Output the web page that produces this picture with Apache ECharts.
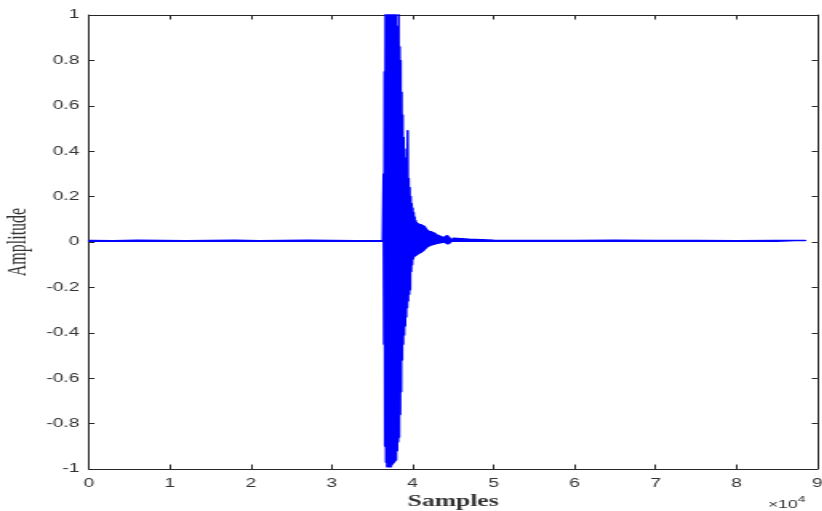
<!DOCTYPE html>
<html>
<head>
<meta charset="utf-8">
<script src="https://cdn.jsdelivr.net/npm/echarts@6/dist/echarts.min.js"></script>
<style>
  html, body { margin: 0; padding: 0; background: #fff; overflow: hidden; }
  /* the figure is drawn narrow and widened horizontally, like a stretched export */
  #chart { width: 513.75px; height: 511px; transform: scaleX(1.6); transform-origin: 0 0; }
</style>
</head>
<body>
<div id="chart"></div>
<script>
// Recorded waveform: quiet baseline, a sharp burst near 3.6e4 samples, then a decaying tail.

// baseline before the burst
const baseSamples = [0, 3000, 6000, 9000, 12000, 15000, 18000, 21000, 24000, 27000, 30000, 33000, 36300];
const baseAmps    = [0.007, 0.006, 0.008, 0.007, 0.006, 0.007, 0.008, 0.006, 0.007, 0.008, 0.007, 0.006, 0.007];

// burst: successive oscillation peaks (positive / negative alternating), one every burstStep samples
const burstStart = 36400;
const burstStep = 62;
const burstPeaks = [
  0.30, -0.45,  0.75, -0.90,  1.08, -0.97,  1.10, -0.99,  1.10, -0.99,
  1.10, -0.99,  1.10, -0.99,  1.10, -0.99,  1.08, -0.98,  1.06, -0.975,
  1.05, -0.97,  1.04, -0.965, 1.02, -0.96,  0.95, -0.92,  0.90, -0.88,
  1.05, -0.86,  0.86, -0.76,  0.80, -0.66,  0.66, -0.52,  0.56, -0.45,
  0.46, -0.41,  0.41, -0.37,  0.37, -0.33,  0.34, -0.29,  0.49, -0.26,
  0.28, -0.23,  0.24, -0.21,  0.20, -0.13,  0.17, -0.10,  0.15, -0.075,
  0.13, -0.065, 0.11, -0.06,  0.095, -0.058, 0.086, -0.055, 0.081, -0.052,
  0.079, -0.05, 0.077, -0.047, 0.076, -0.045, 0.075, -0.042, 0.073, -0.038,
  0.071, -0.035, 0.068, -0.03, 0.062, -0.026, 0.056, -0.022, 0.051, -0.019,
  0.048, -0.017, 0.046, -0.015, 0.045, -0.013, 0.044, -0.012, 0.042, -0.011,
  0.040, -0.010, 0.038, -0.009, 0.035, -0.007, 0.032, -0.006, 0.030, -0.005,
  0.028, -0.004, 0.026, -0.003, 0.024, -0.002, 0.022, -0.002, 0.021, -0.001,
  0.020, 0.000, 0.022, -0.002, 0.025, -0.005, 0.027, -0.008, 0.026, -0.008,
  0.022, -0.005, 0.018, -0.002
];

// tail after the burst
const tailSamples = [45000, 46000, 47000, 48500, 50000, 55000, 60000, 65000, 70000, 75000, 80000, 85000, 88500];
const tailAmps    = [0.016, 0.014, 0.012, 0.010, 0.008, 0.007, 0.007, 0.008, 0.007, 0.007, 0.006, 0.007, 0.007];

// axis settings
const xMin = 0, xMax = 90000, xInterval = 10000, xScale = 10000;
const yMin = -1, yMax = 1, yInterval = 0.2;
const xTitle = 'Samples';
const yTitle = 'Amplitude';

const signal = [];
baseSamples.forEach((s, i) => signal.push([s, baseAmps[i]]));
burstPeaks.forEach((a, i) => signal.push([burstStart + i * burstStep, a]));
tailSamples.forEach((s, i) => signal.push([s, tailAmps[i]]));

const frame = '#262626';
const labelColor = '#333';
const traceColor = '#0000ff';

const chart = echarts.init(document.getElementById('chart'));

function xAxisDef(pos, withLabels) {
  return {
    type: 'value', position: pos, min: xMin, max: xMax, interval: xInterval,
    axisLine: { show: true, onZero: false, lineStyle: { color: frame, width: 1 } },
    axisTick: { show: true, inside: true, length: 4.5, lineStyle: { color: frame, width: 1 } },
    axisLabel: withLabels ? {
      show: true, margin: 9, color: labelColor, fontSize: 12, fontFamily: 'Liberation Sans',
      formatter: v => String(Math.round(v / xScale))
    } : { show: false },
    splitLine: { show: false },
    name: withLabels ? xTitle : '',
    nameLocation: 'middle', nameGap: 25, nameMoveOverlap: false,
    nameTextStyle: { fontFamily: 'Liberation Serif', fontWeight: 'bold', fontSize: 16, color: labelColor }
  };
}

function yAxisDef(pos, withLabels) {
  return {
    type: 'value', position: pos, min: yMin, max: yMax, interval: yInterval,
    axisLine: { show: true, onZero: false, lineStyle: { color: frame, width: 1 } },
    axisTick: { show: true, inside: true, length: 3.5, lineStyle: { color: frame, width: 1 } },
    axisLabel: withLabels ? {
      show: true, margin: 6, color: labelColor, fontSize: 12, fontFamily: 'Liberation Sans',
      formatter: v => String(Math.round(v * 10) / 10)
    } : { show: false },
    splitLine: { show: false },
    name: withLabels ? yTitle : '',
    nameLocation: 'middle', nameGap: 36, nameRotate: 90, nameMoveOverlap: false,
    nameTextStyle: { fontFamily: 'Liberation Serif', fontSize: 16, color: labelColor }
  };
}

chart.setOption({
  animation: false,
  backgroundColor: '#fff',
  grid: { left: 55.6, right: 3.1, top: 15, bottom: 42, containLabel: false, outerBoundsMode: 'none' },
  xAxis: [xAxisDef('bottom', true), xAxisDef('top', false)],
  yAxis: [yAxisDef('left', true), yAxisDef('right', false)],
  series: [{
    type: 'line',
    xAxisIndex: 0, yAxisIndex: 0,
    data: signal,
    symbol: 'none', showSymbol: false,
    clip: true,
    lineStyle: { color: traceColor, width: 1.5, join: 'round', cap: 'round' },
    // fill between the trace and zero so the dense oscillation reads as a solid envelope
    areaStyle: { color: traceColor, opacity: 1, origin: 0 },
    emphasis: { disabled: true }
  }],
  graphic: [
    { type: 'text', right: 15.4, bottom: 1,
      style: { text: '×10', fontFamily: 'Liberation Sans', fontSize: 11, fill: labelColor } },
    { type: 'text', right: 10.4, bottom: 7,
      style: { text: '4', fontFamily: 'Liberation Sans', fontSize: 9, fill: labelColor } }
  ]
});
</script>
</body>
</html>
